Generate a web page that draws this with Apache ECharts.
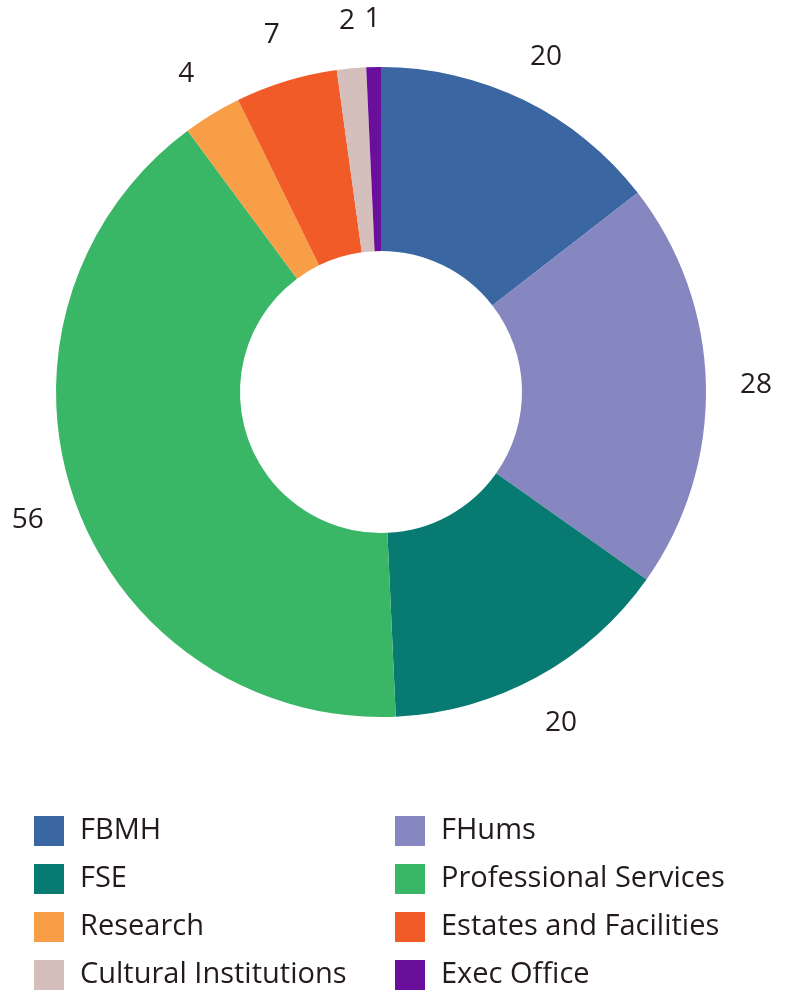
<!DOCTYPE html>
<html>
<head>
<meta charset="utf-8">
<script src="https://cdn.jsdelivr.net/npm/echarts@6/dist/echarts.min.js"></script>
<style>
html,body{margin:0;padding:0;background:#fff;}
#chart{width:786px;height:993px;}
</style>
</head>
<body>
<div id="chart"></div>
<script>
const categories = ['FBMH', 'FHums', 'FSE', 'Professional Services', 'Research', 'Estates and Facilities', 'Cultural Institutions', 'Exec Office'];
const values = [20, 28, 20, 56, 4, 7, 2, 1];
const colors = ['#3a66a1', '#8686c1', '#077a71', '#3ab667', '#f89e47', '#f05b28', '#d4bfbd', '#6a0f9c'];
const legendLeft = ['FBMH', 'FSE', 'Research', 'Cultural Institutions'];
const legendRight = ['FHums', 'Professional Services', 'Estates and Facilities', 'Exec Office'];

const textColor = '#231a20';
const font = '"Open Sans", "Noto Sans", sans-serif';
const data = categories.map((c, i) => ({ name: c, value: values[i], itemStyle: { color: colors[i] } }));

const chart = echarts.init(document.getElementById('chart'));
const legendBase = {
  orient: 'vertical',
  top: 816,
  height: 180,
  padding: 0,
  itemWidth: 30,
  itemHeight: 30,
  itemGap: 18,
  icon: 'rect',
  selectedMode: false,
  textStyle: { color: textColor, fontSize: 29, fontFamily: font, padding: [0, 0, 0, 11] }
};
chart.setOption({
  animation: false,
  legend: [
    Object.assign({}, legendBase, { left: 34, data: legendLeft }),
    Object.assign({}, legendBase, { left: 395, data: legendRight })
  ],
  series: [
    {
      type: 'pie',
      center: [381, 392],
      radius: [141, 325],
      startAngle: 90,
      clockwise: true,
      label: { show: false },
      labelLine: { show: false },
      emphasis: { disabled: true },
      data: data
    },
    {
      type: 'pie',
      center: [381, 394],
      radius: [349, 395],
      startAngle: 90,
      clockwise: true,
      silent: true,
      itemStyle: { color: 'transparent' },
      label: {
        show: true,
        position: 'inside',
        formatter: '{c}',
        color: textColor,
        fontSize: 28,
        fontFamily: font
      },
      labelLine: { show: false },
      emphasis: { disabled: true },
      data: categories.map((c, i) => ({ name: c, value: values[i], itemStyle: { color: 'transparent' } }))
    }
  ]
});
</script>
</body>
</html>
